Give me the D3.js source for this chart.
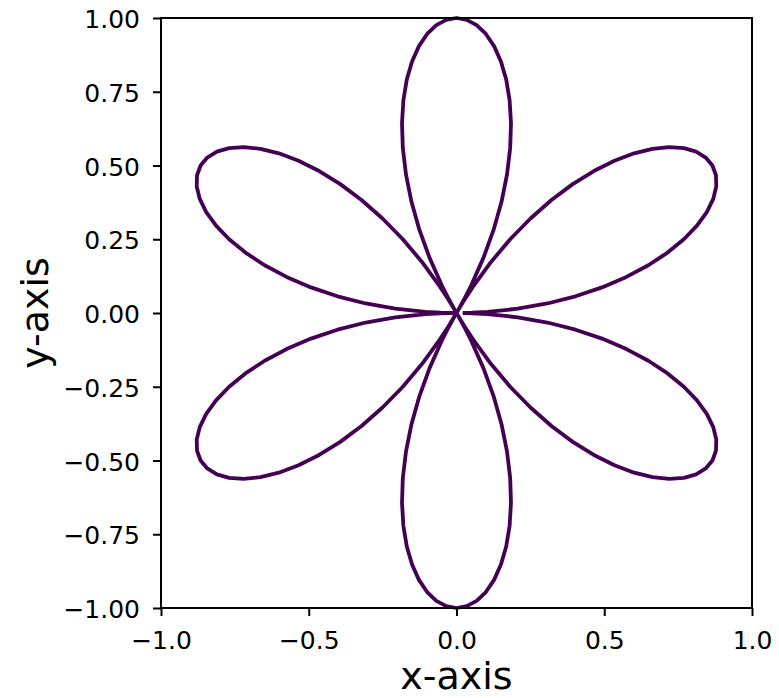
<!DOCTYPE html>
<html>
<head>
<meta charset="utf-8">
<script src="https://cdn.jsdelivr.net/npm/d3@7"></script>
<style>
  html, body { margin: 0; padding: 0; background: #fff; }
  svg { display: block; }
  text { font-family: "DejaVu Sans", sans-serif; fill: #000; }
</style>
</head>
<body>
<svg id="chart" width="779" height="698"></svg>
<script>
// ---- data ----
// petal axis directions (degrees)
const petalAxes = [30, 90, 150, 210, 270, 330];
// angular offset from petal axis (degrees) and radius at that offset
const petalOffsets = [-30, -29.6, -29, -28, -26, -24, -22, -20, -18, -16, -14, -12, -10, -8, -6, -4, -2, 0,
                      2, 4, 6, 8, 10, 12, 14, 16, 18, 20, 22, 24, 26, 28, 29, 29.6, 30];
const petalRadius = [0, 0.0209, 0.0523, 0.1045, 0.2079, 0.3090, 0.4067, 0.5, 0.5878, 0.6691, 0.7431, 0.8090, 0.8660, 0.9135, 0.9511, 0.9781, 0.9945, 1,
                     0.9945, 0.9781, 0.9511, 0.9135, 0.8660, 0.8090, 0.7431, 0.6691, 0.5878, 0.5, 0.4067, 0.3090, 0.2079, 0.1045, 0.0523, 0.0209, 0];
const xTicks = [-1.0, -0.5, 0.0, 0.5, 1.0];
const yTicks = [-1.0, -0.75, -0.5, -0.25, 0.0, 0.25, 0.5, 0.75, 1.0];
const xLabel = "x-axis";
const yLabel = "y-axis";

(function () {
// ---- layout ----
const pLeft = 161, pRight = 752, pTop = 18, pBottom = 608;
const svg = d3.select("#chart");
const x = d3.scaleLinear().domain([-1, 1]).range([pLeft, pRight]);
const y = d3.scaleLinear().domain([-1, 1]).range([pBottom, pTop]);

// build curve points (polar -> cartesian)
let pts = [];
petalAxes.forEach(ax => {
  petalOffsets.forEach((o, i) => {
    const th = (ax + o) * Math.PI / 180;
    const r = petalRadius[i];
    pts.push([r * Math.cos(th), r * Math.sin(th)]);
  });
});
// open curve: the trace starts and ends just off the origin on the right side
pts = pts.slice(1, pts.length - 1);

const line = d3.line().x(d => x(d[0])).y(d => y(d[1]));
svg.append("path")
  .attr("d", line(pts))
  .attr("fill", "none")
  .attr("stroke", "#440154")
  .attr("stroke-width", 3.8)
  .attr("stroke-linejoin", "round");

const fmtMinus = s => s.replace("-", "\u2212");

// x axis
const xAxis = d3.axisBottom(x).tickValues(xTicks).tickSize(8)
  .tickFormat(d => fmtMinus(d3.format(".1f")(d)));
const gx = svg.append("g").attr("transform", `translate(0,${pBottom})`).call(xAxis);
gx.select(".domain").remove();
gx.selectAll(".tick line").attr("stroke", "#000").attr("stroke-width", 2);
gx.selectAll(".tick text").attr("y", 41).attr("dy", 0)
  .style("font-size", "25px").style("font-family", "DejaVu Sans");

// y axis
const yAxis = d3.axisLeft(y).tickValues(yTicks).tickSize(8)
  .tickFormat(d => fmtMinus(d3.format(".2f")(d)));
const gy = svg.append("g").attr("transform", `translate(${pLeft},0)`).call(yAxis);
gy.select(".domain").remove();
gy.selectAll(".tick line").attr("stroke", "#000").attr("stroke-width", 2);
gy.selectAll(".tick text").attr("x", -21).attr("dy", "0.38em")
  .style("font-size", "25px").style("font-family", "DejaVu Sans");

// frame (spines)
svg.append("rect")
  .attr("x", pLeft).attr("y", pTop)
  .attr("width", pRight - pLeft).attr("height", pBottom - pTop)
  .attr("fill", "none").attr("stroke", "#000").attr("stroke-width", 2);

// axis labels
svg.append("text")
  .attr("x", (pLeft + pRight) / 2).attr("y", 689)
  .attr("text-anchor", "middle")
  .style("font-size", "38px")
  .text(xLabel);
svg.append("text")
  .attr("transform", `translate(48,${(pTop + pBottom) / 2}) rotate(-90)`)
  .attr("text-anchor", "middle")
  .style("font-size", "38px")
  .text(yLabel);
})();
</script>
</body>
</html>
